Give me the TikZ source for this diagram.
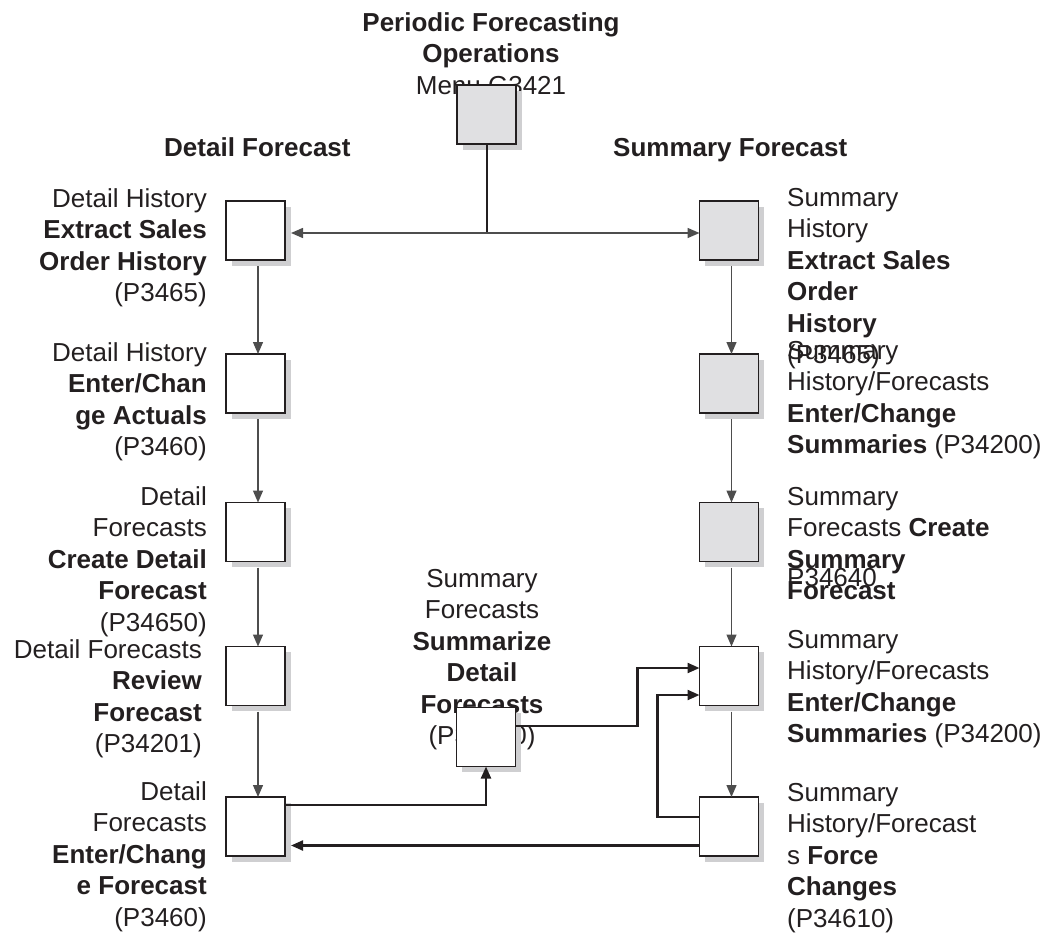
\documentclass[tikz,border=0pt]{standalone}
\usepackage{fontspec}
\setmainfont{Liberation Sans}
\usetikzlibrary{arrows.meta,calc,shadows}
\definecolor{boxgray}{HTML}{E0E0E2}
\definecolor{shadowgray}{HTML}{CFCFD1}
\definecolor{linegray}{HTML}{4D4D4D}
\definecolor{ink}{HTML}{231F20}

\begin{document}
\begin{tikzpicture}[x=1pt,y=-1pt,
  every node/.style={text=ink, font=\fontsize{26}{31.5}\selectfont},
  prog/.style={draw=ink, line width=1.4pt, fill=white, minimum size=59pt,
    inner sep=0pt, outer sep=0pt,
    drop shadow={shadow xshift=5.5pt, shadow yshift=-5.5pt, fill=shadowgray, opacity=1}},
  menu/.style={prog, fill=boxgray},
  lbl/.style={inner sep=0pt, execute at begin node=\strut},
  lblL/.style={lbl, align=right, anchor=north east},
  lblR/.style={lbl, align=left, anchor=north west},
  tip/.style={-{Triangle[length=12pt,width=10pt]}},
  flow/.style={draw=linegray, line width=1.3pt, tip},
  link/.style={draw=ink, line width=2.2pt, tip},
]
\useasboundingbox (0,0) rectangle (1052,940);

% titles
\node[lbl, align=center, anchor=north] (title) at (491,12)
  {\textbf{Periodic Forecasting}\\\textbf{Operations}\\Menu G3421};
\node[lbl, anchor=north west] (hDet) at (164,134) {\textbf{Detail Forecast}};
\node[lbl, anchor=north west] (hSum) at (613,134) {\textbf{Summary Forecast}};

% detail forecast labels
\node[lblL] (tL1) at (207,188) {Detail History\\\textbf{Extract Sales}\\\textbf{Order History}\\(P3465)};
\node[lblL] (tL2) at (207,342) {Detail History\\\textbf{Enter/Chan}\\\textbf{ge Actuals}\\(P3460)};
\node[lblL] (tL3) at (207,486) {Detail\\Forecasts\\\textbf{Create Detail}\\\textbf{Forecast}\\(P34650)};
\node[lblL] (tL4) at (202,639) {Detail Forecasts\\\textbf{Review}\\\textbf{Forecast}\\(P34201)};
\node[lblL] (tL5) at (207,781) {Detail\\Forecasts\\\textbf{Enter/Chang}\\\textbf{e Forecast}\hspace*{7pt}\\(P3460)};

% summarize label
\node[lbl, align=center, anchor=north] (tM) at (482,569)
  {Summary\\Forecasts\\\textbf{Summarize}\\\textbf{Detail}\\\textbf{Forecasts}\\(P34600)};

% summary forecast labels
\node[lblR] (tR1) at (787,188) {Summary\\History\\\textbf{Extract Sales}\\\textbf{Order}\\\textbf{History}\\(P3465)};
\node[lblR] (tR2) at (787,341) {Summary\\History/Forecasts\\\textbf{Enter/Change}\\\textbf{Summaries} (P34200)};
\node[lblR] (tR3) at (787,487) {Summary\\Forecasts \textbf{Create}\\\textbf{Summary}\\\textbf{Forecast}};
\node[lblR] (tR3b) at (787,564) {P34640};
\node[lblR] (tR4) at (787,630) {Summary\\History/Forecasts\\\textbf{Enter/Change}\\\textbf{Summaries} (P34200)};
\node[lblR] (tR5) at (787,783) {Summary\\History/Forecast\\s \textbf{Force}\\\textbf{Changes}\\(P34610)};

% program boxes
\node[menu] (T) at (486.5,114.5) {};
\node[prog] (L1) at (255.5,230.5) {};
\node[prog] (L2) at (255.5,383.5) {};
\node[prog] (L3) at (255.5,532) {};
\node[prog] (L4) at (255.5,676) {};
\node[prog] (L5) at (255.5,826.5) {};
\node[menu] (R1) at (729,230.5) {};
\node[menu] (R2) at (729,383.5) {};
\node[menu] (R3) at (729,532) {};
\node[prog] (R4) at (729,676) {};
\node[prog] (R5) at (729,826.5) {};
\node[prog] (M) at (486,737) {};

% menu branches
\coordinate (J) at ($(T.south)+(0,89)$);
\draw[draw=ink, line width=2pt] (T.south) -- (J);
\draw[flow, line width=1.5pt] (J) -- ($(L1.east |- J)+(6,0)$);
\draw[flow, line width=1.5pt] (J) -- (R1.west |- J);

% column sequences
\foreach \a/\b in {L1/L2, L2/L3, L3/L4, L4/L5, R1/R2, R2/R3, R3/R4, R4/R5}
  \draw[flow] ($(\a.south)+(2.5,6)$) -- ($(\b.north)+(2.5,0)$);

% cross links
\draw[link] ($(L5.east)+(0,-21.5)$) -| (M.south);
\draw[link] ($(M.east)+(0,-11)$) -| ($(R4.west)+(-62,-8)$) -- ($(R4.west)+(0,-8)$);
\draw[link] ($(R5.west)+(0,-9.5)$) -| ($(R4.west)+(-42,19)$) -- ($(R4.west)+(0,19)$);
\draw[link] ($(R5.west)+(0,19)$) -- ($(L5.east)+(6,19)$);
\end{tikzpicture}
\end{document}
